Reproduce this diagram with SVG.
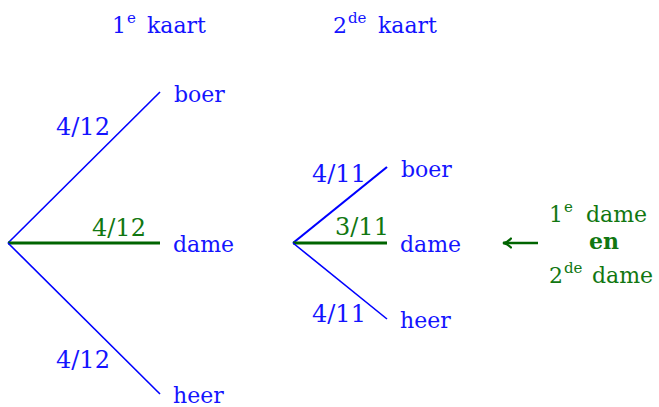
<svg xmlns="http://www.w3.org/2000/svg" width="659" height="407" viewBox="0 0 659 407">
<style>
text{font-family:"DejaVu Serif","Liberation Serif",serif;font-size:22px}
.f{font-size:24px}
.b{fill:#1414ff}
.g{fill:#117711}
.sup{font-size:15px}
.bl{stroke:#0000ff;stroke-width:1.6;fill:none}
.gl{stroke:#006400;stroke-width:3.2;fill:none}
</style>
<defs>
<marker id="ah" markerWidth="12" markerHeight="12" refX="9" refY="6" orient="auto" markerUnits="userSpaceOnUse">
<path d="M1,1.5 Q4,5 9,6 Q4,7 1,10.5" fill="none" stroke="#006400" stroke-width="2.2" stroke-linecap="round"/>
</marker>
</defs>
<g id="headers">
<text class="b" y="33"><tspan x="112">1</tspan><tspan class="sup" x="127" y="23">e</tspan><tspan x="147" y="33">kaart</tspan></text>
<text class="b" y="33"><tspan x="333">2</tspan><tspan class="sup" x="348" y="23">de</tspan><tspan x="378" y="33">kaart</tspan></text>
</g>
<g id="connectors">
<line class="bl" x1="8" y1="243" x2="160" y2="92"/>
<line class="gl" x1="8" y1="243" x2="160" y2="243"/>
<line class="bl" x1="8" y1="243" x2="160" y2="394"/>
<line class="bl" x1="293" y1="243" x2="387" y2="167" style="stroke-width:2.2"/>
<line class="gl" x1="293" y1="243" x2="387" y2="243"/>
<line class="bl" x1="293" y1="243" x2="387" y2="319"/>
<line x1="538" y1="243" x2="503" y2="243" stroke="#006400" stroke-width="2.6" marker-end="url(#ah)"/>
</g>
<g id="edge-labels">
<text class="b f" x="56" y="135">4/12</text>
<text class="g f" x="92" y="236">4/12</text>
<text class="b f" x="56" y="368">4/12</text>
<text class="b f" x="312" y="182">4/11</text>
<text class="g f" x="335" y="235">3/11</text>
<text class="b f" x="312" y="322">4/11</text>
</g>
<g id="n-boer1"><text class="b" x="174" y="102">boer</text></g>
<g id="n-dame1"><text class="b" x="173" y="252">dame</text></g>
<g id="n-heer1"><text class="b" x="173" y="403">heer</text></g>
<g id="n-boer2"><text class="b" x="401" y="177">boer</text></g>
<g id="n-dame2"><text class="b" x="400" y="252">dame</text></g>
<g id="n-heer2"><text class="b" x="400" y="328">heer</text></g>
<g id="n-note">
<text class="g" y="222"><tspan x="549">1</tspan><tspan class="sup" x="564" y="212">e</tspan><tspan x="586" y="222">dame</tspan></text>
<text class="g" x="604" y="249" font-weight="bold" text-anchor="middle">en</text>
<text class="g" y="283"><tspan x="549">2</tspan><tspan class="sup" x="564" y="273">de</tspan><tspan x="592" y="283">dame</tspan></text>
</g>
</svg>
